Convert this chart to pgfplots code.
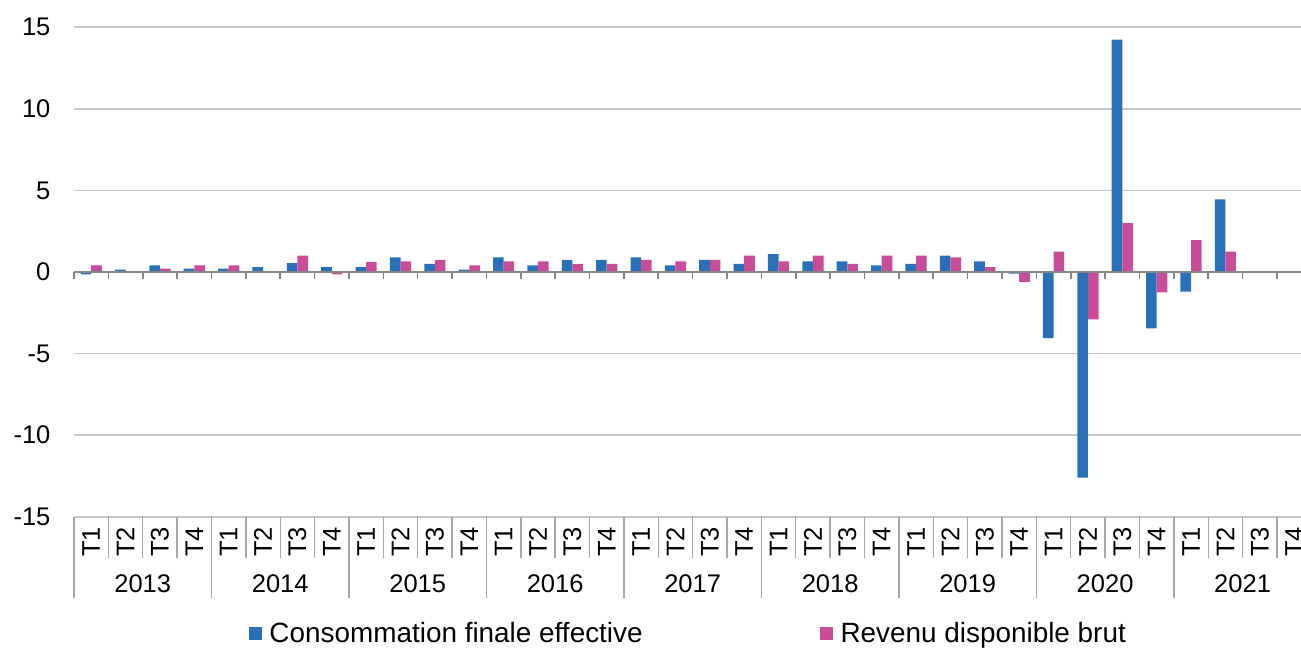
\documentclass[border=0pt]{standalone}
\usepackage{fontspec}
\setmainfont{Liberation Sans}
\usepackage{pgfplots}
\usepackage{pgfplotstable}
\pgfplotsset{compat=1.18}
\definecolor{cblue}{RGB}{41,112,184}
\definecolor{cpink}{RGB}{200,76,152}
\definecolor{gridgray}{RGB}{200,200,200}
\definecolor{axisgray}{RGB}{134,134,134}
\definecolor{sepgray}{RGB}{166,166,166}
\pgfplotstableread{
idx cfe rdb
0 -0.15 0.4
1 0.15 0.0
2 0.4 0.2
3 0.2 0.4
4 0.2 0.4
5 0.3 0.0
6 0.55 1.0
7 0.3 -0.15
8 0.3 0.6
9 0.9 0.65
10 0.5 0.75
11 0.15 0.4
12 0.9 0.65
13 0.4 0.65
14 0.75 0.5
15 0.75 0.5
16 0.9 0.75
17 0.4 0.65
18 0.75 0.75
19 0.5 1.0
20 1.1 0.65
21 0.65 1.0
22 0.65 0.5
23 0.4 1.0
24 0.5 1.0
25 1.0 0.9
26 0.65 0.3
27 -0.1 -0.6
28 -4.05 1.25
29 -12.6 -2.9
30 14.25 3.0
31 -3.45 -1.25
32 -1.2 1.95
33 4.45 1.25
}\data
\newcommand{\lblfont}{\fontsize{12.8}{15}\selectfont}
\begin{document}
\begin{tikzpicture}
\begin{axis}[
  at={(0,0)}, anchor=south west, scale only axis,
  width=618.66bp, height=244.7bp,
  xmin=-0.5, xmax=35.5, ymin=-15, ymax=15,
  clip=false,
  axis line style={draw=none},
  major tick length=0pt,
  ytick={-15,-10,-5,0,5,10,15},
  yticklabels={-15,-10,-5,0,5,10,15},
  ymajorgrids, grid style={gridgray, line width=0.8bp},
  yticklabel style={font=\lblfont, anchor=east, inner sep=0pt, xshift=-11.6bp},
  xtick={0,...,35},
  xticklabels={T1,T2,T3,T4,T1,T2,T3,T4,T1,T2,T3,T4,T1,T2,T3,T4,T1,T2,T3,T4,T1,T2,T3,T4,T1,T2,T3,T4,T1,T2,T3,T4,T1,T2,T3,T4},
  xticklabel style={font=\lblfont, inner sep=0pt, yshift=-12.65bp, rotate=90, anchor=center},
  legend columns=2,
  legend style={draw=none, fill=none, inner sep=0pt, outer sep=0pt,
    at={(0,0)}, anchor=west, xshift=87.5bp, yshift=-58.5bp,
    font=\fontsize{14}{17}\selectfont,
    cells={anchor=west, text height=10bp, text depth=0pt, inner sep=0pt},
    /tikz/every odd column/.append style={column sep=1.65bp},
    /tikz/every even column/.append style={column sep=86.7bp}},
]
\addplot[ybar, bar width=5.3bp, bar shift=-2.65bp, fill=cblue, draw=none,
  legend image code/.code={\fill[cblue] (0bp,-3.3bp) rectangle (6.6bp,3.3bp);}]
  table[x=idx,y=cfe]{\data};
\addlegendentry{Consommation finale effective}
\addplot[ybar, bar width=5.3bp, bar shift=2.65bp, fill=cpink, draw=none,
  legend image code/.code={\fill[cpink] (0bp,-3.3bp) rectangle (6.6bp,3.3bp);}]
  table[x=idx,y=rdb]{\data};
\addlegendentry{Revenu disponible brut}
\draw[axisgray, line width=1bp] (axis cs:-0.5,0) -- (axis cs:35.5,0);
\pgfplotsinvokeforeach{-0.5,0.5,...,35.5}{
  \draw[axisgray, line width=0.8bp] (axis cs:#1,0) -- ([yshift=-3.7bp]axis cs:#1,0);
  \draw[sepgray, line width=0.7bp] (axis cs:#1,-15) -- ([yshift=-20.65bp]axis cs:#1,-15);
}
\pgfplotsinvokeforeach{-0.5,3.5,...,35.5}{
  \draw[sepgray, line width=0.7bp] (axis cs:#1,-15) -- ([yshift=-40.65bp]axis cs:#1,-15);
}
\pgfplotsinvokeforeach{0,...,8}{
  \node[font=\lblfont, inner sep=0pt, yshift=-33.4bp] at (axis cs:4*#1+1.5,-15) {\pgfmathparse{int(2013+#1)}\pgfmathresult};
}
\end{axis}
\pgfresetboundingbox
\useasboundingbox (-37bp,-65.65bp) rectangle (613.5bp,258.35bp);
\end{tikzpicture}
\end{document}
